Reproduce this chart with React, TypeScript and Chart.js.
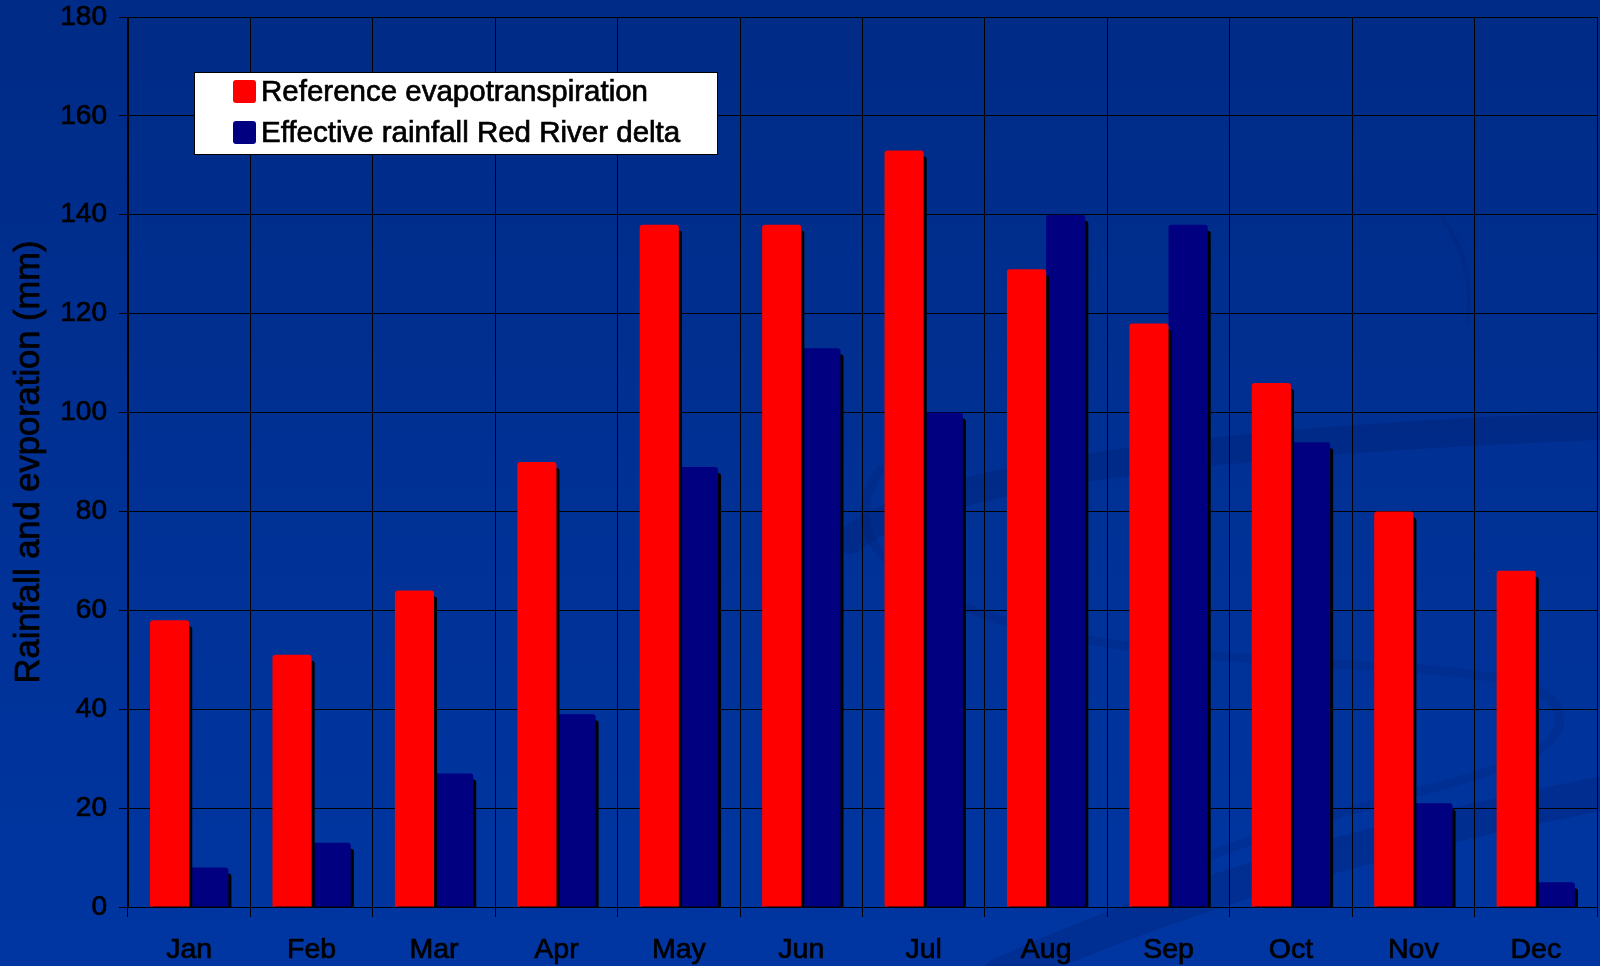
import React, { useEffect, useRef } from "react";
import { Chart, registerables } from "chart.js";

Chart.register(...registerables);

const categories = ["Jan", "Feb", "Mar", "Apr", "May", "Jun", "Jul", "Aug", "Sep", "Oct", "Nov", "Dec"];
const evapotranspiration = [58, 51, 64, 90, 138, 138, 153, 129, 118, 106, 80, 68];
const effectiveRainfall = [8, 13, 27, 39, 89, 113, 100, 140, 138, 94, 21, 5];
const seriesLabels = ["Reference evapotranspiration", "Effective rainfall Red River delta"];
const seriesColors = ["#ff0000", "#000080"];
const yMin = 0;
const yMax = 180;
const yStep = 20;
const yTitle = "Rainfall and evporation (mm)";

const FONT = "'Liberation Sans', Arial, sans-serif";

const backgroundPlugin = {
  id: "bgPlugin",
  beforeDraw(chart: any) {
    const { ctx, width, height } = chart;
    ctx.save();
    const g = ctx.createLinearGradient(0, 0, 0, height);
    g.addColorStop(0, "#002b86");
    g.addColorStop(1, "#0036a2");
    ctx.fillStyle = g;
    ctx.fillRect(0, 0, width, height);
    ctx.strokeStyle = "rgba(0, 20, 90, 0.2)";
    ctx.lineCap = "round";
    ctx.lineWidth = 28;
    ctx.beginPath();
    ctx.moveTo(850, 540);
    ctx.quadraticCurveTo(960, 450, 1620, 425);
    ctx.stroke();
    ctx.strokeStyle = "rgba(0, 20, 90, 0.14)";
    ctx.lineWidth = 9;
    ctx.beginPath();
    ctx.moveTo(880, 470);
    ctx.quadraticCurveTo(820, 560, 1000, 620);
    ctx.bezierCurveTo(1250, 690, 1560, 640, 1560, 720);
    ctx.bezierCurveTo(1560, 780, 1350, 790, 1150, 880);
    ctx.stroke();
    ctx.strokeStyle = "rgba(0, 20, 90, 0.2)";
    ctx.lineWidth = 34;
    ctx.beginPath();
    ctx.moveTo(1000, 975);
    ctx.quadraticCurveTo(1250, 860, 1620, 790);
    ctx.stroke();
    ctx.strokeStyle = "rgba(0, 20, 90, 0.14)";
    ctx.lineWidth = 4;
    ctx.beginPath();
    ctx.moveTo(1440, 215);
    ctx.quadraticCurveTo(1475, 260, 1468, 320);
    ctx.stroke();
    ctx.restore();
  },
};

const shadowPlugin = {
  id: "barShadow",
  beforeDatasetDraw(chart: any) {
    const ctx = chart.ctx;
    ctx.save();
    ctx.shadowColor = "#000000";
    ctx.shadowOffsetX = 3;
    ctx.shadowOffsetY = 6;
    ctx.shadowBlur = 0;
  },
  afterDatasetDraw(chart: any) {
    chart.ctx.restore();
  },
};

const titlePlugin = {
  id: "yTitle",
  afterDraw(chart: any) {
    const ctx = chart.ctx;
    const area = chart.chartArea;
    ctx.save();
    ctx.translate(29, (area.top + area.bottom) / 2);
    ctx.rotate(-Math.PI / 2);
    ctx.font = `34.5px ${FONT}`;
    ctx.textAlign = "center";
    ctx.textBaseline = "middle";
    ctx.fillStyle = "#000000";
    ctx.strokeStyle = "#000000";
    ctx.lineWidth = 0.8;
    ctx.strokeText(yTitle, 0, 0);
    ctx.fillText(yTitle, 0, 0);
    ctx.restore();
  },
};

const legendPlugin = {
  id: "boxLegend",
  afterDraw(chart: any) {
    const ctx = chart.ctx;
    ctx.save();
    ctx.fillStyle = "#ffffff";
    ctx.fillRect(194.5, 72.5, 523, 82);
    ctx.strokeStyle = "#000000";
    ctx.lineWidth = 1;
    ctx.strokeRect(194.5, 72.5, 523, 82);
    chart.data.datasets.forEach((ds: any, i: number) => {
      const y0 = 80 + i * 41;
      ctx.fillStyle = ds.backgroundColor;
      ctx.beginPath();
      ctx.roundRect(233, y0, 23, 23, 3);
      ctx.fill();
      ctx.fillStyle = "#000000";
      ctx.strokeStyle = "#000000";
      ctx.lineWidth = 0.7;
      ctx.font = `29.5px ${FONT}`;
      ctx.textBaseline = "middle";
      ctx.textAlign = "left";
      ctx.strokeText(ds.label, 261, y0 + 13);
      ctx.fillText(ds.label, 261, y0 + 13);
    });
    ctx.restore();
  },
};

export default function App() {
  const canvasRef = useRef<HTMLCanvasElement | null>(null);

  useEffect(() => {
    document.body.style.margin = "0";
    const canvas = canvasRef.current;
    if (!canvas) return;
    const barCommon = {
      borderWidth: 0,
      borderRadius: { topLeft: 3, topRight: 3, bottomLeft: 0, bottomRight: 0 },
      borderSkipped: "start",
      barPercentage: 1,
      categoryPercentage: 0.64,
    };
    const chart = new Chart(canvas, {
      type: "bar",
      data: {
        labels: categories,
        datasets: [
          { label: seriesLabels[0], data: evapotranspiration, backgroundColor: seriesColors[0], ...barCommon },
          { label: seriesLabels[1], data: effectiveRainfall, backgroundColor: seriesColors[1], ...barCommon },
        ],
      },
      options: {
        responsive: false,
        animation: false,
        layout: { padding: { top: 17, right: 3, left: 0, bottom: 0 } },
        plugins: {
          legend: { display: false },
          tooltip: { enabled: false },
          title: { display: false },
        },
        scales: {
          x: {
            offset: true,
            grid: {
              display: true,
              offset: true,
              color: "#000000",
              lineWidth: 1,
              drawTicks: true,
              tickLength: 10,
              tickColor: "#000000",
            },
            border: { display: true, color: "#000000", width: 1 },
            ticks: {
              color: "#000000",
              font: { family: FONT, size: 28.5 },
              padding: 16,
              maxRotation: 0,
              textStrokeColor: "#000000",
              textStrokeWidth: 0.7,
            },
            afterFit(scale: any) {
              scale.height = 59;
              scale.paddingLeft = 0;
              scale.paddingRight = 0;
            },
          },
          y: {
            min: yMin,
            max: yMax,
            grid: {
              display: true,
              color: "#000000",
              lineWidth: 1,
              drawTicks: true,
              tickLength: 9,
              tickColor: "#000000",
            },
            border: { display: true, color: "#000000", width: 1 },
            ticks: {
              stepSize: yStep,
              color: "#000000",
              font: { family: FONT, size: 28 },
              padding: 12,
              textStrokeColor: "#000000",
              textStrokeWidth: 0.7,
            },
            title: { display: false },
            afterFit(scale: any) {
              scale.width = 128;
              scale.paddingTop = 0;
              scale.paddingBottom = 0;
            },
          },
        },
      },
      plugins: [backgroundPlugin, shadowPlugin, titlePlugin, legendPlugin],
    });
    return () => {
      chart.destroy();
    };
  }, []);

  return (
    <div style={{ width: 1600, height: 966, position: "relative" }}>
      <canvas ref={canvasRef} width={1600} height={966} style={{ display: "block" }} />
    </div>
  );
}
